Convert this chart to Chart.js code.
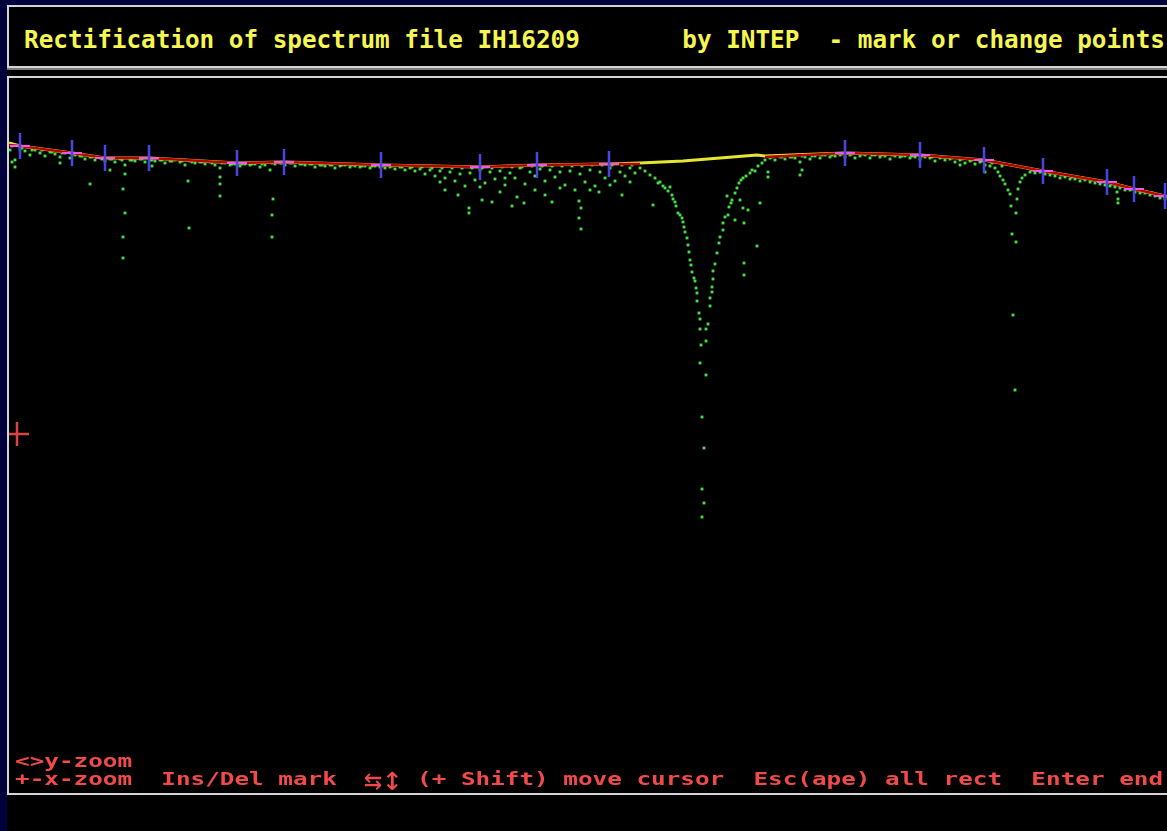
<!DOCTYPE html>
<html><head><meta charset="utf-8">
<script src="https://cdn.jsdelivr.net/npm/chart.js@4.4.1/dist/chart.umd.min.js"></script>
<style>
html,body{margin:0;padding:0;width:1167px;height:831px;overflow:hidden;background:#00003c;}
#screen{position:absolute;left:7px;top:5px;width:1160px;height:826px;background:#000;}
.hl{position:absolute;background:#d4d4d4;}
.txt{position:absolute;white-space:pre;font-family:"DejaVu Sans Mono",monospace;font-size:24.3px;line-height:24px;font-weight:bold;}
.yel{color:#f6f652;}
.red{color:#f04a4a;transform:scaleY(0.75);transform-origin:0 0;}
.arr{color:#f04a4a;font-weight:normal;}
#wrap{position:absolute;left:9px;top:78px;width:1158px;height:715px;}
</style></head><body>
<div id="screen"></div>
<div class="hl" style="left:7px;top:5px;width:1160px;height:2px"></div>
<div class="hl" style="left:7px;top:5px;width:2px;height:63px"></div>
<div class="hl" style="left:7px;top:66px;width:1160px;height:2px"></div>
<div class="hl" style="left:7px;top:68px;width:1160px;height:2px;background:#7c7c7c"></div>
<div class="hl" style="left:7px;top:76px;width:1160px;height:2px"></div>
<div class="hl" style="left:7px;top:76px;width:2px;height:719px"></div>
<div class="hl" style="left:7px;top:793px;width:1160px;height:2px"></div>
<div id="wrap"><canvas id="c"></canvas></div>
<div class="txt yel" style="left:24px;top:28px">Rectification of spectrum file IH16209       by INTEP  - mark or change points</div>
<div class="txt red" style="left:15px;top:752px">&lt;&gt;y-zoom</div>
<div class="txt red" style="left:15px;top:770px">+-x-zoom  Ins/Del mark</div>
<div class="txt arr" style="left:364px;top:766px;font-size:30px">⇆<span style="font-size:34px">↕</span></div>
<div class="txt red" style="left:417px;top:770px">(+ Shift) move cursor  Esc(ape) all rect  Enter end</div>
<script>
// Spectrum samples: wavelength (Angstrom) and flux (counts)
const specWaveA = [
6501.0,6501.5,6502.0,6502.5,6503.0,6503.5,6504.0,6504.5,6505.0,6505.5,
6506.0,6506.5,6507.0,6507.5,6508.0,6508.5,6509.0,6509.5,6510.0,6510.5,
6511.0,6511.5,6512.0,6512.5,6513.0,6513.5,6514.0,6514.5,6515.0,6515.5,
6516.0,6516.5,6517.0,6517.5,6518.0,6518.5,6519.0,6519.5,6520.0,6520.5,
6521.0,6521.5,6522.0,6522.5,6523.0,6523.5,6524.0,6524.5,6525.0,6525.5,
6526.0,6526.5,6527.0,6527.5,6528.0,6528.5,6529.0,6529.5,6530.0,6530.5,
6531.0,6531.5,6532.0,6532.5,6533.0,6533.5,6534.0,6534.5,6535.0,6535.5,
6536.0,6536.5,6537.0,6537.5,6538.0,6538.5,6539.0,6539.5,6540.0,6540.5,
6541.0,6541.5,6542.0,6542.5,6543.0,6543.5,6544.0,6544.5,6545.0,6545.5,
6546.0,6546.5,6547.0,6547.5,6548.0,6548.5,6549.0,6549.5,6550.0,6550.5,
6551.0,6551.5,6552.0,6552.5,6553.0,6553.5,6554.0,6554.5,6555.0,6555.5,
6556.0,6556.5,6557.0,6557.5,6558.0,6558.5,6559.0,6559.5,6560.0,6560.5,
6561.0,6561.5,6562.0,6562.5,6563.0,6563.5,6564.0,6564.5];
const specFluxA = [
6450,6350,6460,6440,6400,6450,6420,6390,6430,6410,
6380,6420,6370,6400,6390,6360,6380,6350,6370,6340,
6360,6330,6360,6300,6350,6340,6360,6330,6350,6340,
6350,6320,6340,6350,6330,6300,6340,6320,6330,6310,
6330,6300,6270,6320,6300,6310,6290,6310,6300,6310,
6280,6300,6250,6310,6320,6300,6320,6290,6310,6300,
6310,6280,6300,6290,6300,6270,6290,6300,6280,6290,
6280,6290,6270,6290,6280,6270,6280,6260,6280,6250,
6270,6240,6260,6210,6250,6190,6240,6170,6230,6140,
6210,6090,6220,6150,6250,6120,6230,6160,6240,6100,
6220,6170,6270,6110,6230,6190,6260,6140,6250,6180,
6230,6100,6240,6050,6210,6130,6250,6090,6230,6170,
6270,6140,6230,6190,6270,6220,6270,6240];
const specWaveB = [
6501.2,6502.2,6503.2,6504.2,6505.2,6506.2,6507.2,6508.2,6509.2,6510.2,
6511.2,6512.2,6513.2,6514.2,6515.2,6516.2,6517.2,6518.2,6519.2,6520.2,
6521.2,6522.2,6523.2,6524.2,6525.2,6526.2,6527.2,6528.2,6529.2,6530.2,
6531.2,6532.2,6533.2,6534.2,6535.2,6536.2,6537.2,6538.2,6539.2,6540.2,
6541.2,6542.2,6543.2,6544.2,6545.2,6546.2,6547.2,6548.2,6549.2,6550.2,
6551.2,6552.2,6553.2,6554.2,6555.2,6556.2,6557.2,6558.2,6559.2,6560.2,
6561.2,6562.2,6563.2,
6577.2,6578.2,6579.2,6580.2,6581.2,6582.2,6583.2,6584.2,6585.2,6586.2,
6587.2,6588.2,6589.2,6590.2,6591.2,6592.2,6593.2,6594.2,6595.2,6596.2,
6597.2,6598.2,6599.2,6600.2,
6603.2,6604.2,6605.2,6606.2,6607.2,6608.2,6609.2,6610.2,6611.2,6612.2,
6613.2,6614.2,6615.2,6616.2];
const specFluxB = [
6490,6470,6450,6450,6430,6420,6410,6390,6380,6360,
6360,6350,6350,6360,6350,6350,6340,6340,6330,6330,
6320,6320,6310,6310,6310,6310,6320,6320,6320,6310,
6310,6300,6300,6300,6300,6290,6290,6290,6290,6280,
6280,6280,6270,6270,6270,6270,6270,6270,6270,6280,
6280,6280,6290,6290,6290,6290,6290,6290,6300,6300,
6300,6300,6300,
6380,6380,6380,6390,6390,6400,6400,6410,6410,6410,
6400,6400,6400,6390,6390,6390,6380,6380,6370,6360,
6350,6340,6320,6290,
6250,6240,6220,6200,6180,6170,6150,6130,6110,6090,
6060,6040,6020,5990];
const specWaveC = [
6577.0,6577.5,6578.0,6578.5,6579.0,6579.5,6580.0,6580.5,6581.0,6581.5,
6582.0,6582.5,6583.0,6583.5,6584.0,6584.5,6585.0,6585.5,6586.0,6586.5,
6587.0,6587.5,6588.0,6588.5,6589.0,6589.5,6590.0,6590.5,6591.0,6591.5,
6592.0,6592.5,6593.0,6593.5,6594.0,6594.5,6595.0,6595.5,6596.0,6596.5,
6597.0,6597.5,6598.0,6598.5,6599.0,
6603.0,6603.5,6604.0,6604.5,6605.0,6605.5,6606.0,6606.5,6607.0,6607.5,
6608.0,6608.5,6609.0,6609.5,6610.0,6610.5,6611.0,6611.5,6612.0,6612.5,
6613.0,6613.5,6614.0,6614.5,6615.0,6615.5,6616.0,6616.5];
const specFluxC = [
6370,6350,6380,6360,6380,6370,6330,6380,6360,6390,
6370,6400,6380,6390,6400,6380,6400,6370,6390,6400,
6370,6400,6380,6390,6360,6390,6380,6390,6370,6380,
6360,6380,6370,6340,6370,6350,6360,6330,6350,6320,
6340,6310,6330,6300,6290,
6230,6220,6230,6210,6200,6190,6170,6180,6160,6160,
6140,6150,6130,6120,6110,6100,6090,6080,6070,6050,
6050,6030,6020,6020,6000,5990,5970,5960];
// strong absorption line, blue wing + core
const lineBlueWave = [
6565.0,6565.5,6565.8,6566.0,6566.3,6566.5,6566.8,6567.0,6567.2,6567.3,
6567.5,6567.6,6567.8,6568.0,6568.2,6568.3,6568.4,6568.5,6568.7,6568.8,
6568.9,6569.0,6569.1,6569.2,6569.4,6569.5,6569.6,6569.7,6569.7,6569.9,
6570.0,6570.0,6570.1,6570.0,6570.2,6570.4,6570.2,6570.4,6570.2];
const lineBlueFlux = [
6200,6170,6120,6130,6090,6070,6040,6080,6000,5960,
5930,5890,5820,5800,5770,5730,5680,5630,5570,5500,
5430,5350,5300,5230,5170,5140,5070,5020,4940,4820,
4760,4660,4500,4320,3780,3470,3060,2920,2780];
// strong absorption line, red wing
const lineRedWave = [
6570.6,6570.6,6570.6,6570.8,6571.0,6571.0,6571.2,6571.2,6571.3,6571.3,
6571.5,6571.7,6571.9,6572.0,6572.3,6572.3,6572.5,6572.8,6572.9,6573.1,
6573.2,6573.5,6573.7,6573.9,6574.1,6574.3,6574.6,6575.0,6575.2,6575.5,
6575.8,6576.2,6576.5];
const lineRedFlux = [
4200,4540,4660,4710,4890,4970,5030,5080,5160,5240,
5310,5420,5520,5580,5650,5720,5780,5800,5880,5920,
5950,6020,6070,6120,6150,6170,6190,6220,6250,6240,
6290,6320,6350];
// weaker line near 6601 A
const weakWave = [6599.5,6599.8,6600.0,6600.3,6600.5,6600.8,6601.0,6601.1,6601.2,6601.3,6601.5,6601.6,6601.6,6601.7,6601.8,6602.0,6602.2,6602.5];
const weakFlux = [6270,6230,6190,6150,6110,6050,6010,5890,5610,4800,4050,5530,5820,5960,6060,6130,6170,6200];
// isolated low samples (noise, cosmics, weak lines)
const scatterWave = [
6509.0,6512.3,6512.5,6512.5,6512.3,6512.3,6518.8,6518.9,6522.0,6522.0,6522.0,6527.3,6527.2,6527.2,6515.2,6501.2,6501.5,6506.0,6511.0,
6546.9,6546.9,6548.0,6548.2,6549.2,6551.2,6551.7,6552.4,6555.2,6557.9,6558.1,6557.9,6558.1,6559.0,6559.9,6562.2,6565.3,6544.5,6545.8,6550.0,6553.5,6556.0,6561.0,6563.0,6544.0,6550.5,6554.5,
6574.4,6574.4,6575.7,6574.4,6574.3,6574.8,6573.5,6574.0,6572.7,
6576.8,6576.8,6580.0,6580.2,6576.0,6611.7,6611.8,6611.8,6596.0,6598.5];
const scatterFlux = [
6110,6060,6210,5820,5580,5370,6140,5670,6180,6110,5990,5960,5800,5580,6290,6330,6280,6320,6250,
5870,5820,6080,5950,5930,5890,5980,5920,5930,5940,5870,5770,5660,6050,6030,6000,5900,6050,6000,6030,6050,6070,6100,6130,6130,6170,6000,
5320,5200,5490,5720,5870,5850,5750,5950,5990,
6230,6180,6200,6250,5920,6030,5960,5920,6300,6230];
// marked continuum points
const markWave = [6502.0,6507.2,6510.5,6514.9,6523.7,6528.4,6538.1,6548.0,6553.7,6560.9,6584.5,6592.0,6598.4,6604.3,6610.7,6613.4,6616.5];
const markFlux = [6490,6420,6370,6370,6320,6330,6300,6280,6300,6310,6420,6400,6350,6240,6130,6060,5990];
// interpolated continuum (yellow) and fitted continuum (red)
const contWave = [6500.9,6502.0,6507.2,6510.5,6514.9,6523.7,6528.4,6538.1,6548.0,6553.7,6560.9,6564.0,6568.3,6572.0,6575.7,6576.5,6584.5,6592.0,6598.4,6604.3,6610.7,6613.4,6616.5,6616.7];
const contFlux = [6520,6490,6420,6370,6370,6320,6330,6300,6280,6300,6310,6320,6340,6370,6400,6390,6420,6400,6350,6240,6130,6060,5990,5980];
const fitWave = [6500.9,6502.0,6507.2,6510.5,6514.9,6523.7,6528.4,6538.1,6548.0,6553.7,6560.9,6564.0,6570.0,6576.5,6584.5,6592.0,6598.4,6604.3,6610.7,6613.4,6616.5,6616.7];
const fitFlux = [6500,6490,6420,6370,6370,6320,6330,6300,6280,6300,6310,6310,null,6380,6420,6400,6350,6240,6130,6060,5990,5980];
// cursor position
const cursorWave = [6501.7];
const cursorFlux = [3610];

const pts = (w, f) => w.map((x, i) => ({x: x, y: f[i]}));
const greenPts = [].concat(
  pts(specWaveA, specFluxA), pts(specWaveB, specFluxB), pts(specWaveC, specFluxC),
  pts(lineBlueWave, lineBlueFlux), pts(lineRedWave, lineRedFlux),
  pts(weakWave, weakFlux), pts(scatterWave, scatterFlux));

new Chart(document.getElementById('c'), {
  type: 'scatter',
  data: { datasets: [
    { data: pts(cursorWave, cursorFlux), pointStyle: 'cross', pointRadius: 12, borderColor: '#dc4444', borderWidth: 2.5, order: 0 },
    { data: pts(markWave, markFlux), pointStyle: 'line', rotation: 90, pointRadius: 13, borderColor: '#4646e6', borderWidth: 2.5, order: 1 },
    { data: pts(markWave, markFlux), pointStyle: 'line', pointRadius: 10, borderColor: '#f055f0', borderWidth: 2, order: 2 },
    { data: pts(fitWave, fitFlux), showLine: true, spanGaps: false, pointRadius: 0, borderColor: '#b80000', borderWidth: 2.5, order: 3 },
    { data: pts(contWave, contFlux), showLine: true, pointRadius: 0, borderColor: '#e6e632', borderWidth: 3, order: 4 },
    { data: greenPts, pointStyle: 'rect', pointRadius: 2, backgroundColor: '#46e046', borderWidth: 0, order: 5 }
  ]},
  options: {
    responsive: true, maintainAspectRatio: false, animation: false,
    layout: { padding: 0, autoPadding: false },
    plugins: { legend: { display: false }, tooltip: { enabled: false } },
    scales: {
      x: { type: 'linear', min: 6500.9, max: 6616.7, display: false },
      y: { type: 'linear', min: 20, max: 7170, display: false }
    }
  }
});
</script>
</body></html>
